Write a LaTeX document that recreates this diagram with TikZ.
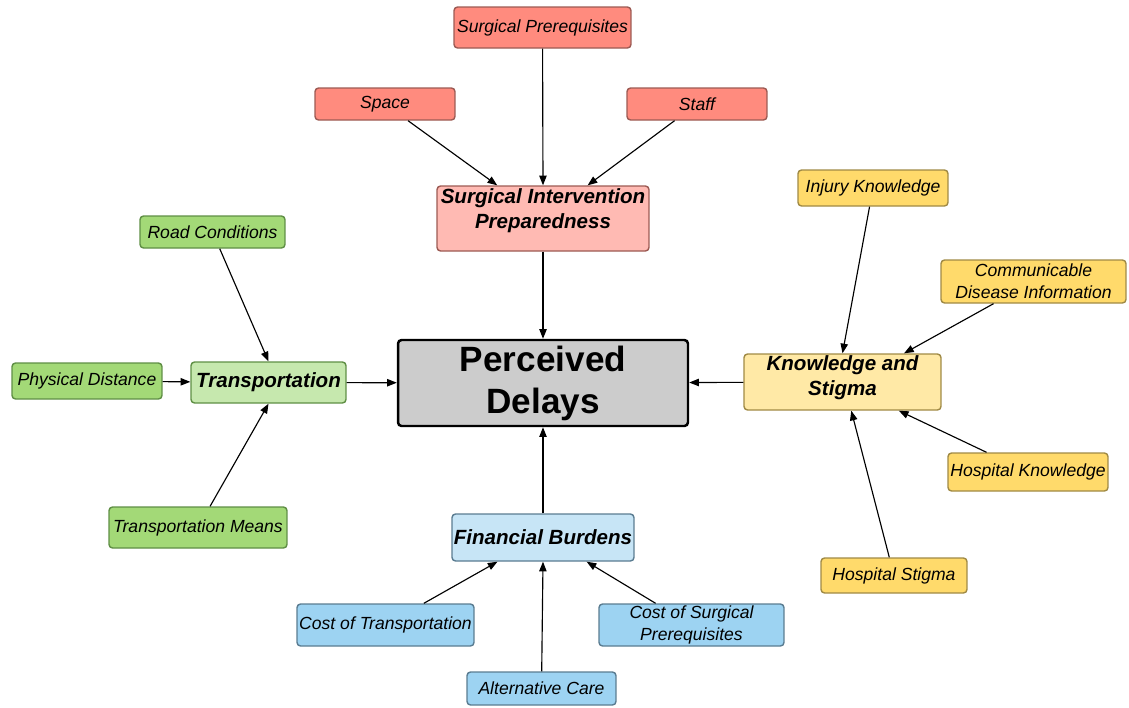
\documentclass[tikz,border=0pt]{standalone}
\usepackage{fontspec}
\setmainfont{Liberation Sans}
\usetikzlibrary{arrows.meta}
\usetikzlibrary{shapes}

\definecolor{redleaf}{HTML}{FF8B7E}
\definecolor{redmid}{HTML}{FFBAB3}
\definecolor{redline}{HTML}{9C5A53}
\definecolor{yelleaf}{HTML}{FFDA6B}
\definecolor{yelmid}{HTML}{FFE9A6}
\definecolor{yelline}{HTML}{A08A45}
\definecolor{grnleaf}{HTML}{A3D977}
\definecolor{grnmid}{HTML}{C6E8AE}
\definecolor{grnline}{HTML}{5F8F45}
\definecolor{bluleaf}{HTML}{9DD3F2}
\definecolor{blumid}{HTML}{C7E5F6}
\definecolor{bluline}{HTML}{5A7C91}

\begin{document}
\begin{tikzpicture}[x=0.02cm, y=-0.02cm, ->, >={Triangle[length=5.5pt,width=4.2pt]}, line width=0.65pt,
    box/.style = {rectangle, rounded corners=2pt, line width=0.8pt, inner sep=1pt, align=center},
    leaf/.style = {box, font=\fontsize{10}{12.5}\selectfont\itshape},
    midfont/.style = {font=\fontsize{11.7}{14}\selectfont\bfseries\itshape, align=center},
    mid/.style = {box, midfont},
    red/.style = {fill=redleaf, draw=redline},
    yel/.style = {fill=yelleaf, draw=yelline},
    grn/.style = {fill=grnleaf, draw=grnline},
    blu/.style = {fill=bluleaf, draw=bluline}]
    \useasboundingbox (0,0) rectangle (1129,707);
    % Nodes

    \node[box, fill=black!20, draw=black, line width=1.4pt, font=\fontsize{20}{24}\selectfont\bfseries,
          minimum width=5.8cm, minimum height=1.72cm] (pd) at (543,383) {Perceived\\Delays};

    \node[mid, red, fill=redmid, minimum width=4.24cm, minimum height=1.3cm,
          label={[midfont, yshift=4.5pt]center:{Surgical Intervention\\Preparedness}}] (sip) at (543,218.5) {};
    \node[leaf, red, minimum width=3.54cm, minimum height=0.82cm] (spre) at (542.5,27.5) {Surgical Prerequisites};
    \node[leaf, red, minimum width=2.8cm, minimum height=0.64cm] (space) at (385,104) {Space};
    \node[leaf, red, minimum width=2.8cm, minimum height=0.64cm] (staff) at (697,104) {Staff};

    \node[mid, yel, fill=yelmid, minimum width=3.94cm, minimum height=1.12cm,
          label={[midfont, yshift=2.5pt]center:{Knowledge and\\Stigma}}] (ks) at (842.5,382) {};
    \node[leaf, yel, minimum width=3.0cm, minimum height=0.72cm] (injury) at (873,188) {Injury Knowledge};
    \node[leaf, yel, minimum width=3.7cm, minimum height=0.86cm] (comm) at (1033.5,281.5) {Communicable\\Disease Information};
    \node[leaf, yel, minimum width=3.2cm, minimum height=0.76cm] (hk) at (1028,472) {Hospital Knowledge};
    \node[leaf, yel, minimum width=2.92cm, minimum height=0.7cm] (hs) at (894,575.5) {Hospital Stigma};

    \node[mid, grn, fill=grnmid, minimum width=3.1cm, minimum height=0.82cm] (trans) at (268.5,382.5) {Transportation};
    \node[leaf, grn, minimum width=2.9cm, minimum height=0.64cm] (road) at (212.5,232) {Road Conditions};
    \node[leaf, grn, minimum width=3.0cm, minimum height=0.72cm] (phys) at (87,381) {Physical Distance};
    \node[leaf, grn, minimum width=3.56cm, minimum height=0.82cm] (means) at (198,527.5) {Transportation Means};

    \node[mid, blu, fill=blumid, minimum width=3.64cm, minimum height=0.94cm] (fb) at (543,537.5) {Financial Burdens};
    \node[leaf, blu, minimum width=3.54cm, minimum height=0.84cm] (cot) at (385.5,625) {Cost of Transportation};
    \node[leaf, blu, minimum width=2.98cm, minimum height=0.66cm] (alt) at (541.5,688.5) {Alternative Care};
    \node[leaf, blu, minimum width=3.7cm, minimum height=0.84cm] (cos) at (691.5,625) {Cost of Surgical\\Prerequisites};

    % Edges

    \draw (sip) -- (pd);
    \draw (trans) -- (pd);
    \draw (ks) -- (pd);
    \draw (fb) -- (pd);

    \draw (spre) -- (sip.north);
    \draw (space) -- (sip);
    \draw (staff) -- (sip);

    \draw (injury) -- (ks.north);
    \draw (comm) -- (ks.25);
    \draw (hk) -- (ks.-27);
    \draw (hs) -- (ks.-73);

    \draw (road) -- (trans.north);
    \draw (phys) -- (trans);
    \draw (means) -- (trans.south);

    \draw (cot) -- (fb.-152);
    \draw (alt) -- (fb.south);
    \draw (cos) -- (fb.-29);

\end{tikzpicture}
\end{document}
